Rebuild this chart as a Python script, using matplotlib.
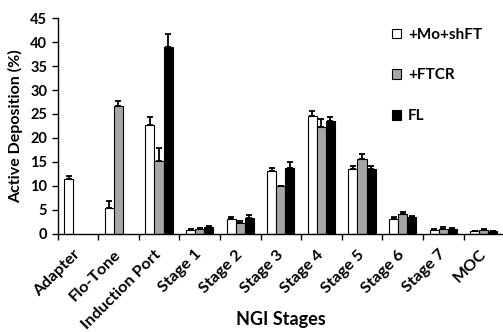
import matplotlib.pyplot as plt
from matplotlib.patches import Patch
import matplotlib.transforms as mtransforms
import numpy as np

plt.rcParams['font.family'] = ['Lato', 'DejaVu Sans']

stages = ['Adapter', 'Flo-Tone', 'Induction Port', 'Stage 1', 'Stage 2', 'Stage 3',
          'Stage 4', 'Stage 5', 'Stage 6', 'Stage 7', 'MOC']
series = ['+Mo+shFT', '+FTCR', 'FL']

mo_shft = [11.4, 5.4, 22.6, 0.8, 3.0, 13.0, 24.6, 13.4, 3.0, 0.7, 0.5]
mo_shft_err = [0.7, 1.4, 1.8, 0.2, 0.4, 0.8, 1.0, 0.8, 0.5, 0.2, 0.1]
ftcr = [0, 26.6, 15.1, 1.0, 2.3, 9.9, 22.3, 15.5, 4.1, 1.0, 0.7]
ftcr_err = [0, 1.2, 2.8, 0.2, 0.3, 0.1, 1.6, 1.2, 0.3, 0.3, 0.2]
fl = [0, 0, 39.0, 1.3, 3.2, 13.6, 23.5, 13.5, 3.5, 0.9, 0.5]
fl_err = [0, 0, 2.8, 0.2, 0.7, 1.3, 0.9, 0.7, 0.2, 0.2, 0.1]

colors = ['white', '#a6a6a6', 'black']

fig = plt.figure(figsize=(5.03, 3.32), dpi=100)
# the category axis runs a little past the right edge, as in the original
ax = fig.add_axes([57.5 / 503, 1 - 233.5 / 332, 446.6 / 503, 215.2 / 332])

index = np.arange(len(stages))
width = 0.222
for i, (vals, errs) in enumerate([(mo_shft, mo_shft_err), (ftcr, ftcr_err), (fl, fl_err)]):
    vals = np.array(vals)
    errs = np.array(errs)
    x = index + (i - 1) * width
    h = ax.bar(x, vals, width=width, color=colors[i], edgecolor='black',
               linewidth=0.8)
    # empty measurements are not drawn at all
    for rect, v in zip(h, vals):
        if v == 0:
            rect.set_visible(False)
    m = vals > 0
    ax.errorbar(x[m], vals[m], yerr=[np.zeros(m.sum()), errs[m]], fmt='none',
                ecolor='black', elinewidth=1.3, capsize=2.3, capthick=1.3)

ax.set_xlim(-0.5, len(stages) - 0.5)
ax.set_ylim(0, 45)
ax.set_yticks(np.arange(0, 46, 5))
ax.set_xticks(index)
ax.set_xticklabels(stages, rotation=45, ha='right', va='top',
                   fontsize=10, fontweight='bold')
ax.set_xticks(np.arange(-0.5, len(stages), 1), minor=True)
ax.tick_params(axis='x', which='major', length=0, pad=10)
ax.tick_params(axis='x', which='minor', length=4, width=1, direction='out')
ax.tick_params(axis='y', length=4, width=1, labelsize=10.5)
for lab in ax.get_yticklabels():
    lab.set_fontweight('bold')
shift = mtransforms.ScaledTranslation(5 / 100, 0, fig.dpi_scale_trans)
for lab in ax.get_xticklabels():
    lab.set_transform(lab.get_transform() + shift)
ax.spines['top'].set_visible(False)
ax.spines['right'].set_visible(False)
ax.spines['left'].set_linewidth(1)
ax.spines['bottom'].set_linewidth(1)

# size the slanted labels so "Induction Port" spans about 84 px across
renderer = fig.canvas.get_renderer()
best = None
for fs in np.arange(9, 14.01, 0.25):
    for lab in ax.get_xticklabels():
        lab.set_fontsize(fs)
    w = ax.get_xticklabels()[2].get_window_extent(renderer).width
    if best is None or abs(w - 84) < best[1]:
        best = (fs, abs(w - 84))
for lab in ax.get_xticklabels():
    lab.set_fontsize(best[0])

ax.set_ylabel('Active Deposition (%)', fontsize=11.5, fontweight='bold', labelpad=5)
ax.set_xlabel('NGI Stages', fontsize=13, fontweight='bold')
ax.xaxis.set_label_coords((281 - 57.5) / 446.6, (233.5 - 320) / 215.2)
ax.xaxis.label.set_va('center')

handles = [Patch(facecolor=c, edgecolor='black', linewidth=0.8) for c in colors]
fig.legend(handles=handles, labels=series, loc='upper left',
           bbox_to_anchor=(378 / 503, 1 - 14 / 332), frameon=False,
           prop=dict(weight='bold', size=11), labelspacing=1.75,
           handlelength=0.6, handleheight=0.6, handletextpad=0.45)

fig.savefig('out.png', dpi=100)
